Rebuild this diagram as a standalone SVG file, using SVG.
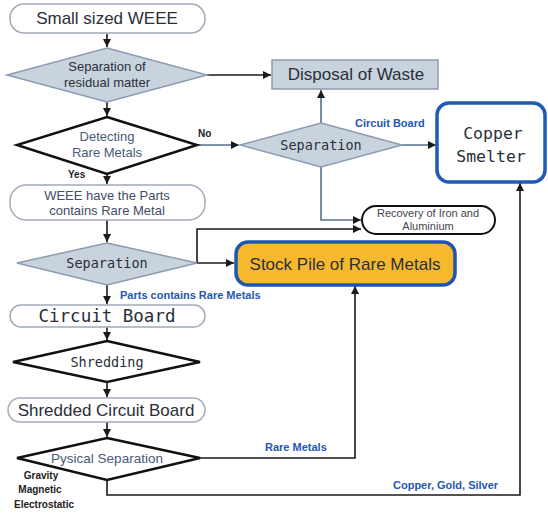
<svg xmlns="http://www.w3.org/2000/svg" width="548" height="513" viewBox="0 0 548 513">
<defs>
<marker id="ab" viewBox="0 0 10 10" refX="10" refY="5" markerWidth="9" markerHeight="8" markerUnits="userSpaceOnUse" orient="auto"><path d="M0,0 L10,5 L0,10 Z" fill="#1a1a1a"/></marker>
<marker id="ag" viewBox="0 0 10 10" refX="10" refY="5" markerWidth="9" markerHeight="8" markerUnits="userSpaceOnUse" orient="auto"><path d="M0,0 L10,5 L0,10 Z" fill="#1a1a1a"/></marker>
</defs>
<style>
.pill{fill:#fff;stroke:#a3abb8;stroke-width:1.5}
.gd{fill:#c9d3de;stroke:#8c9bb0;stroke-width:1.5}
.wd{fill:#fff;stroke:#111;stroke-width:2.5}
.t{font-family:"Liberation Sans",Arial,sans-serif;fill:#2a2f38;text-anchor:middle}
.m{font-family:"DejaVu Sans Mono","Liberation Mono",monospace;fill:#2a2f38;text-anchor:middle}
.bl{font-family:"Liberation Sans",Arial,sans-serif;font-weight:bold;fill:#1f58b3;font-size:11px}
.k{font-family:"Liberation Sans",Arial,sans-serif;font-weight:bold;fill:#222;font-size:10px}
.c{fill:none;stroke:#1a1a1a;stroke-width:1.6;marker-end:url(#ab)}
.cg{fill:none;stroke:#56708f;stroke-width:1.6;marker-end:url(#ag)}
</style>
<g id="connectors">
<path class="c" d="M107,34 V47"/>
<path class="c" d="M207,75 H271"/>
<path class="c" d="M107,102 V116"/>
<path class="cg" d="M197,145 H239"/>
<path class="cg" d="M321,123 V90"/>
<path class="cg" d="M402,145 H436"/>
<path class="cg" d="M321,167 V220 H361"/>
<path class="c" d="M107,175 V184"/>
<path class="c" d="M107,220 V242"/>
<path class="c" d="M197,263 H234"/>
<path class="c" d="M197,263 V229 H361"/>
<path class="c" d="M107,285 V304"/>
<path class="c" d="M107,327 V340"/>
<path class="c" d="M107,382 V397"/>
<path class="c" d="M107,422 V437"/>
<path class="c" d="M200,458 H355 V286"/>
<path class="c" d="M107,480 V495 H520 V183"/>
<text class="k" x="198" y="137">No</text>
<text class="k" x="68" y="178">Yes</text>
<text class="bl" x="355" y="127">Circuit Board</text>
<text class="bl" x="120" y="299">Parts contains Rare Metals</text>
<text class="bl" x="265" y="451">Rare Metals</text>
<text class="bl" x="393" y="489">Copper, Gold, Silver</text>
</g>
<g id="n-small-weee">
<rect class="pill" x="10" y="4" width="195" height="29" rx="14"/>
<text class="t" x="107" y="24" font-size="17">Small sized WEEE</text>
</g>
<g id="n-sep-residual">
<polygon class="gd" points="107,48 207,75 107,102 7,75"/>
<text class="t" x="107" y="71" font-size="13">Separation of</text>
<text class="t" x="107" y="87" font-size="13">residual matter</text>
</g>
<g id="n-disposal">
<rect x="272" y="60" width="166" height="29" fill="#c9d3de" stroke="#8c9bb0" stroke-width="1.5"/>
<text class="t" x="356" y="80" font-size="17">Disposal of Waste</text>
</g>
<g id="n-detecting">
<polygon class="wd" points="107,117 197,145 107,174 17,145"/>
<text class="t" x="107" y="141" font-size="13" style="fill:#4a5a78">Detecting</text>
<text class="t" x="107" y="157" font-size="13" style="fill:#4a5a78">Rare Metals</text>
</g>
<g id="n-separation2">
<polygon class="gd" points="321,123 402,145 321,167 240,145"/>
<text class="m" x="321" y="150" font-size="13.5">Separation</text>
</g>
<g id="n-copper-smelter">
<rect x="437" y="103" width="108" height="79" rx="12" fill="#fff" stroke="#1f5bb5" stroke-width="3.5"/>
<text class="m" x="493" y="139" font-size="16.5">Copper</text>
<text class="m" x="491" y="162" font-size="16.5">Smelter</text>
</g>
<g id="n-recovery">
<rect x="362" y="206" width="133" height="28" rx="14" fill="#fff" stroke="#111" stroke-width="2"/>
<text class="t" x="428" y="217" font-size="11" style="fill:#3f4550">Recovery of Iron and</text>
<text class="t" x="428" y="230" font-size="11" style="fill:#3f4550">Aluminium</text>
</g>
<g id="n-weee-parts">
<rect class="pill" x="10" y="185" width="195" height="35" rx="16"/>
<text class="t" x="107" y="200" font-size="13" style="fill:#3f4d68">WEEE have the Parts</text>
<text class="t" x="107" y="215" font-size="13" style="fill:#3f4d68">contains Rare Metal</text>
</g>
<g id="n-separation3">
<polygon class="gd" points="107,243 197,263 107,285 17,263"/>
<text class="m" x="107" y="268" font-size="13.5">Separation</text>
</g>
<g id="n-stockpile">
<rect x="236" y="242" width="219" height="43" rx="12" fill="#f6b92e" stroke="#1f56b0" stroke-width="3.5"/>
<text class="t" x="345" y="270" font-size="17">Stock Pile of Rare Metals</text>
</g>
<g id="n-circuit-board">
<rect class="pill" x="10" y="305" width="195" height="22" rx="11"/>
<text class="m" x="107" y="322" font-size="17.5">Circuit Board</text>
</g>
<g id="n-shredding">
<polygon class="wd" points="107,341 200,362 107,382 13,362"/>
<text class="m" x="107" y="367" font-size="13.5">Shredding</text>
</g>
<g id="n-shredded">
<rect class="pill" x="8" y="398" width="197" height="24" rx="12"/>
<text class="t" x="106" y="416" font-size="17">Shredded Circuit Board</text>
</g>
<g id="n-physical">
<polygon class="wd" points="107,438 200,458 107,480 17,458"/>
<text class="t" x="107" y="463" font-size="13.5" style="fill:#4a5a78">Pysical Separation</text>
<text class="k" x="41" y="479" text-anchor="middle">Gravity</text>
<text class="k" x="40" y="493" text-anchor="middle">Magnetic</text>
<text class="k" x="44" y="508" text-anchor="middle">Electrostatic</text>
</g>
</svg>
